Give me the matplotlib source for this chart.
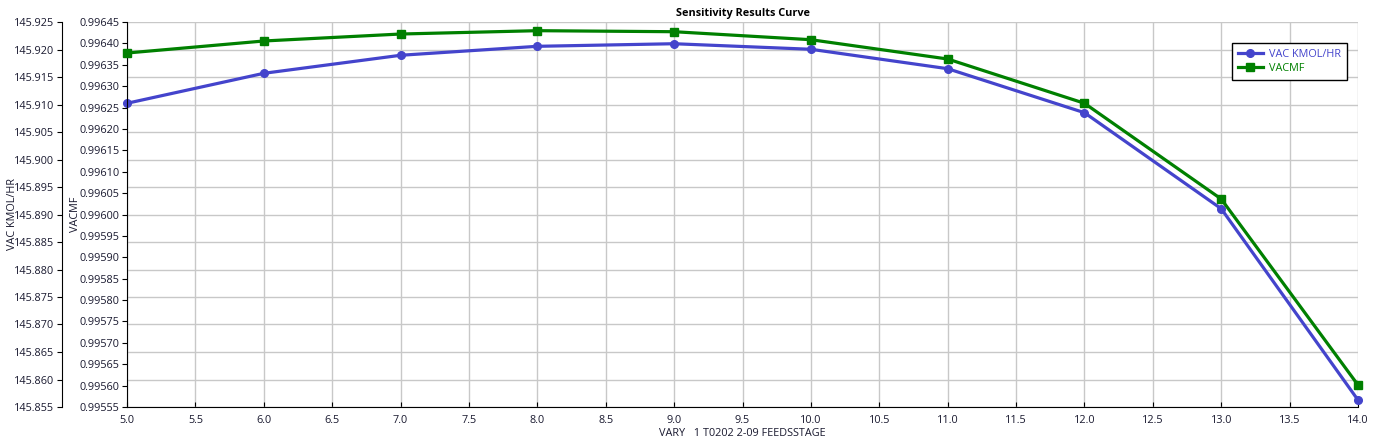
import matplotlib
matplotlib.use("Agg")
import matplotlib.pyplot as plt
from matplotlib.ticker import MultipleLocator, FormatStrFormatter
import numpy as np

feed_stage = [5, 6, 7, 8, 9, 10, 11, 12, 13, 14]
vac_kmol_hr = [145.91022, 145.91567, 145.91895, 145.92058, 145.92105,
               145.92004, 145.91651, 145.90851, 145.89105, 145.85627]
vacmf = [0.9963775, 0.9964056, 0.9964219, 0.9964297, 0.9964273,
         0.9964086, 0.9963635, 0.9962600, 0.9960362, 0.9956014]

title = "Sensitivity Results Curve"
xlabel = "VARY   1 T0202 2-09 FEEDSSTAGE"
label_outer = "VAC KMOL/HR"
label_inner = "VACMF"

plt.rcParams['font.family'] = ['Open Sans', 'DejaVu Sans']
FS = 7.8
TXT = '#1a1a30'
BLUE = '#4444CC'
GREEN = '#008000'

W, H = 1375, 444
fig = plt.figure(figsize=(W / 100, H / 100), dpi=100)
left, right, top, bottom = 127, 1358, 22, 407
pw = right - left
ax = fig.add_axes([left / W, 1 - bottom / H, pw / W, (bottom - top) / H])

# outer axis (VAC KMOL/HR)
ax.plot(feed_stage, vac_kmol_hr, color=BLUE, lw=2.3, marker='o', ms=5.5,
        label=label_outer, zorder=3, clip_on=False)
ax.set_xlim(5.0, 14.0)
ax.set_ylim(145.855, 145.925)
ax.xaxis.set_major_locator(MultipleLocator(0.5))
ax.xaxis.set_major_formatter(FormatStrFormatter('%.1f'))
ax.yaxis.set_major_locator(MultipleLocator(0.005))
ax.yaxis.set_major_formatter(FormatStrFormatter('%.3f'))
ax.grid(True, color='#c8c8c8', lw=1.0)
ax.spines['left'].set_position(('outward', 65 * 0.72))
ax.spines['top'].set_visible(False)
ax.spines['right'].set_visible(False)
ax.tick_params(axis='y', direction='out', length=3.5, labelsize=FS, colors='black',
               labelcolor=TXT, pad=2)
ax.tick_params(axis='x', direction='in', length=3.5, labelsize=FS, colors='black',
               labelcolor=TXT, pad=6)
ax.set_ylabel(label_outer, fontsize=FS, color=TXT)
ax.yaxis.set_label_coords((18 - left) / pw, 0.5)
ax.set_xlabel(xlabel, fontsize=FS, color=TXT, labelpad=1)
ax.set_title(title, fontsize=7.8, fontweight='bold', color='black', pad=4)

# inner axis (VACMF)
ax2 = ax.twinx()
ax2.plot(feed_stage, vacmf, color=GREEN, lw=2.3, marker='s', ms=5.5,
         label=label_inner, zorder=3, clip_on=False)
ax2.set_ylim(0.99555, 0.99645)
ax2.yaxis.set_major_locator(MultipleLocator(0.00005))
ax2.yaxis.set_major_formatter(FormatStrFormatter('%.5f'))
ax2.yaxis.tick_left()
ax2.yaxis.set_label_position('left')
ax2.spines['left'].set_visible(True)
ax2.spines['right'].set_visible(False)
ax2.spines['top'].set_visible(False)
ax2.spines['bottom'].set_visible(False)
ax2.tick_params(axis='y', direction='out', length=3.5, labelsize=FS, colors='black',
                labelcolor=TXT, pad=2)
ax2.set_ylabel(label_inner, fontsize=FS, color=TXT)
ax2.yaxis.set_label_coords((81 - left) / pw, 0.5)

h1, l1 = ax.get_legend_handles_labels()
h2, l2 = ax2.get_legend_handles_labels()
leg = ax2.legend(h1 + h2, l1 + l2, loc='upper left',
                 bbox_to_anchor=((1232 - left) / pw, 1 - (43 - top) / (bottom - top)),
                 fontsize=FS, frameon=True, fancybox=False, edgecolor='black',
                 framealpha=1, borderpad=0.55, handlelength=2.3, handletextpad=0.6,
                 labelspacing=0.3, borderaxespad=0)
leg.get_frame().set_linewidth(1.0)
for txt, c in zip(leg.get_texts(), [BLUE, GREEN]):
    txt.set_color(c)

fig.savefig('out.png', dpi=100)
